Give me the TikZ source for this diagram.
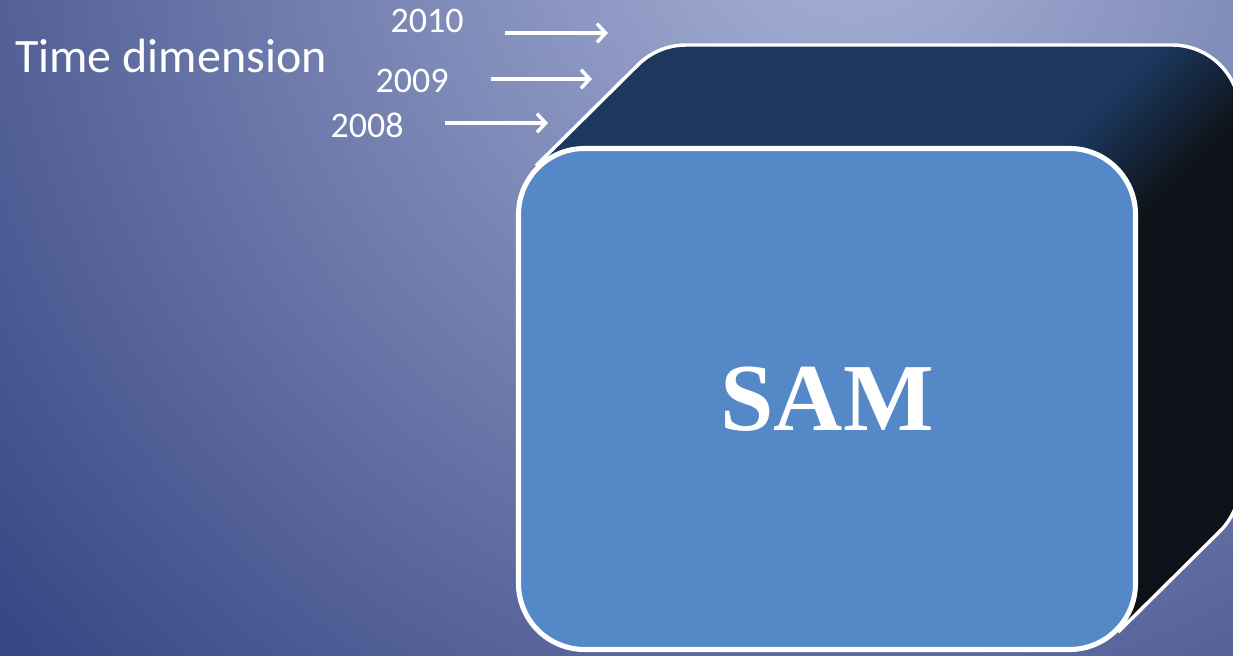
\documentclass[tikz,border=0pt]{standalone}
\usepackage{fontspec}
\setmainfont{Carlito}
\newfontfamily\samfont{Liberation Serif}
\usetikzlibrary{arrows.meta}
\definecolor{bglight}{RGB}{170,180,216}
\definecolor{bgdark}{RGB}{42,58,122}
\definecolor{topface}{RGB}{28,56,95}
\definecolor{sideface}{RGB}{14,18,24}
\definecolor{frontface}{RGB}{84,136,199}
\pgfdeclareradialshading{bgrad}{\pgfpoint{0bp}{0bp}}{color(0bp)=(bglight); color(25bp)=(bgdark); color(50bp)=(bgdark)}
\pgfdeclarehorizontalshading{ridge}{100bp}{color(0bp)=(topface); color(48bp)=(topface); color(52bp)=(sideface); color(100bp)=(sideface)}
\begin{document}
\begin{tikzpicture}[x=0.75pt,y=0.75pt,
  yeartext/.style={font=\fontsize{27}{31}\selectfont, text=white, inner sep=0pt, anchor=base},
  yeararrow/.style={draw=white, line width=2.6pt, -{Straight Barb[length=6.5pt,width=14pt,line width=2.6pt]}},
  hulledge/.style={draw=white, line width=2.6pt, line join=round},
  frontbox/.style={fill=frontface, draw=white, line width=3.8pt, rounded corners=49.5pt,
     minimum width=462.75pt, minimum height=375.75pt, inner sep=0pt,
     text=white, font=\samfont\bfseries\fontsize{72}{80}\selectfont}
]
\useasboundingbox (0,0) rectangle (1233,656);
% background
\begin{scope}
  \clip (0,0) rectangle (1233,656);
  \shade[shading=bgrad] (850,756) circle (1250);
\end{scope}
% extrusion (back part of the box)
\fill[topface] (535.92,490.08) -- (637.92,591.08) arc[start angle=135,end angle=90,radius=68]
  -- (1172,611) arc[start angle=90,end angle=0,radius=68]
  -- (1240,173) arc[start angle=0,end angle=-45,radius=68]
  -- (1118.08,23.92) -- cycle;
\begin{scope}
  \clip (535.92,490.08) -- (637.92,591.08) arc[start angle=135,end angle=90,radius=68]
  -- (1172,611) arc[start angle=90,end angle=0,radius=68]
  -- (1240,173) arc[start angle=0,end angle=-45,radius=68]
  -- (1118.08,23.92) -- cycle;
  \shade[shading=ridge, shading angle=-45] (418,-210) rectangle (1818,1190);
\end{scope}
\draw[hulledge] (535.92,490.08) -- (637.92,591.08) arc[start angle=135,end angle=90,radius=68]
  -- (1172,611) arc[start angle=90,end angle=0,radius=68]
  -- (1240,173) arc[start angle=0,end angle=-45,radius=68]
  -- (1118.08,23.92);
% front face
\node[frontbox] (sam) at (827,257) {SAM};
% labels
\node[anchor=base west, text=white, inner sep=0pt, font=\fontsize{36}{42}\selectfont] (timedim) at (15,583) {Time dimension};
\node[yeartext] (y2010) at (427,623) {2010};
\node[yeartext] (y2009) at (412,563) {2009};
\node[yeartext] (y2008) at (367,518) {2008};
\coordinate (a10s) at (505,623);
\coordinate (a10e) at (608,623);
\coordinate (a09s) at (491,577);
\coordinate (a09e) at (592,577);
\coordinate (a08s) at (445,533);
\coordinate (a08e) at (548,533);
\draw[yeararrow] (a10s) -- (a10e);
\draw[yeararrow] (a09s) -- (a09e);
\draw[yeararrow] (a08s) -- (a08e);
\end{tikzpicture}
\end{document}
